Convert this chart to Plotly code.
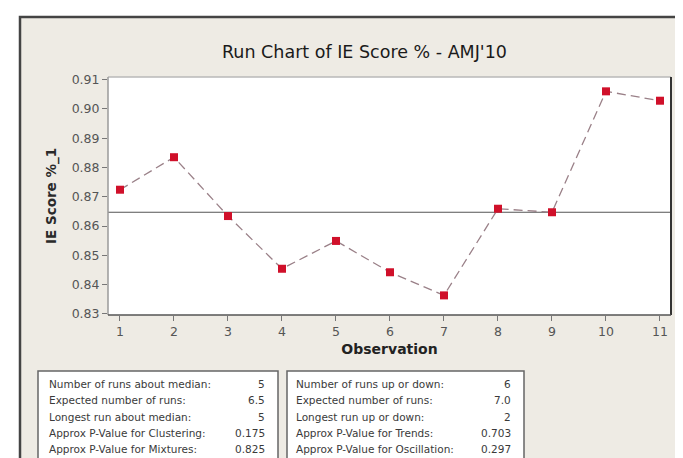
import plotly.graph_objects as go

# ---- data ----
observation = [1, 2, 3, 4, 5, 6, 7, 8, 9, 10, 11]
ie_score = [0.8724, 0.8835, 0.8634, 0.8454, 0.8549, 0.8442, 0.8363, 0.8659, 0.8647, 0.9060, 0.9028]
median_value = 0.8647
y_ticks = [0.83, 0.84, 0.85, 0.86, 0.87, 0.88, 0.89, 0.90, 0.91]
y_tick_text = ["0.83", "0.84", "0.85", "0.86", "0.87", "0.88", "0.89", "0.90", "0.91"]

left_labels = ["Number of runs about median:", "Expected number of runs:", "Longest run about median:",
               "Approx P-Value for Clustering:", "Approx P-Value for Mixtures:"]
left_values = ["5", "6.5", "5", "0.175", "0.825"]
right_labels = ["Number of runs up or down:", "Expected number of runs:", "Longest run up or down:",
                "Approx P-Value for Trends:", "Approx P-Value for Oscillation:"]
right_values = ["6", "7.0", "2", "0.703", "0.297"]

title_text = "Run Chart of IE Score % - AMJ'10"
x_title = "Observation"
y_title = "IE Score %_1"

# ---- geometry helpers (pixel -> paper) ----
W, H = 683, 458
L, R, T, B = 100, 663, 69, 307


def px(x):
    return (x - L) / (R - L)


def py(y):
    return (B - y) / (B - T)


FONT = "DejaVu Sans"
BG = "#EEEBE4"

fig = go.Figure()
fig.add_trace(go.Scatter(
    x=observation, y=ie_score, mode="lines+markers",
    line=dict(color="#9a8088", width=1.3, dash="9px,5px"),
    marker=dict(symbol="square", size=8, color="#D0102A", line=dict(width=0)),
    showlegend=False, hoverinfo="x+y",
))

shapes = []
# median line
shapes.append(dict(type="line", xref="paper", yref="y", x0=0, x1=1, y0=median_value, y1=median_value,
                   line=dict(color="#555555", width=1.2), layer="below"))
# plot borders
shapes.append(dict(type="line", xref="paper", yref="paper", x0=0, x1=1, y0=1, y1=1,
                   line=dict(color="#B8B8B8", width=1.5)))
shapes.append(dict(type="line", xref="paper", yref="paper", x0=0, x1=0, y0=0, y1=1,
                   line=dict(color="#9A9A9A", width=1.5)))
shapes.append(dict(type="line", xref="paper", yref="paper", x0=1, x1=1, y0=0, y1=1,
                   line=dict(color="#333333", width=2)))
shapes.append(dict(type="line", xref="paper", yref="paper", x0=0, x1=1, y0=0, y1=0,
                   line=dict(color="#555555", width=1.5)))
# white outer strips and dark frame
shapes.append(dict(type="rect", xref="paper", yref="paper", x0=px(-5), x1=px(12), y0=py(470), y1=py(-5),
                   fillcolor="white", line=dict(width=0)))
shapes.append(dict(type="rect", xref="paper", yref="paper", x0=px(-5), x1=px(700), y0=py(9), y1=py(-5),
                   fillcolor="white", line=dict(width=0)))
shapes.append(dict(type="rect", xref="paper", yref="paper", x0=px(12), x1=px(720), y0=py(480), y1=py(9),
                   line=dict(color="#444444", width=2.5)))
# stat boxes
for x0, x1 in [(30, 270), (279, 516)]:
    shapes.append(dict(type="rect", xref="paper", yref="paper", x0=px(x0), x1=px(x1), y0=py(452), y1=py(363),
                       fillcolor="white", line=dict(color="#666666", width=1.5)))

annotations = []
row_y = [376, 392, 409, 425, 441]
txt_font = dict(family=FONT, size=10.5, color="#3a3a3a")
for i in range(5):
    annotations.append(dict(xref="paper", yref="paper", x=px(39), y=py(row_y[i]), text=left_labels[i],
                            xanchor="left", yanchor="middle", showarrow=False, font=txt_font))
    annotations.append(dict(xref="paper", yref="paper", x=px(259), y=py(row_y[i]), text=left_values[i],
                            xanchor="right", yanchor="middle", showarrow=False, font=txt_font))
    annotations.append(dict(xref="paper", yref="paper", x=px(286), y=py(row_y[i]), text=right_labels[i],
                            xanchor="left", yanchor="middle", showarrow=False, font=txt_font))
    annotations.append(dict(xref="paper", yref="paper", x=px(505), y=py(row_y[i]), text=right_values[i],
                            xanchor="right", yanchor="middle", showarrow=False, font=txt_font))
# title
annotations.append(dict(xref="paper", yref="paper", x=px(356), y=py(44), text=title_text,
                        xanchor="center", yanchor="middle", showarrow=False,
                        font=dict(family=FONT, size=17.5, color="#1a1a1a")))
# y-axis title
annotations.append(dict(xref="paper", yref="paper", x=px(43), y=py(188), text="<b>" + y_title + "</b>",
                        xanchor="center", yanchor="middle", textangle=-90, showarrow=False,
                        font=dict(family=FONT, size=13.5, color="#2a2a2a")))

fig.update_layout(
    width=W, height=H, autosize=False,
    margin=dict(l=L, r=W - R, t=T, b=H - B, pad=0),
    paper_bgcolor=BG, plot_bgcolor="white",
    font=dict(family=FONT, color="#444444"),
    shapes=shapes, annotations=annotations,
    xaxis=dict(range=[0.778, 11.204], tickmode="array", tickvals=observation,
               ticktext=[str(v) for v in observation],
               showgrid=False, zeroline=False, showline=False,
               ticks="outside", ticklen=5, tickcolor="#777777",
               tickfont=dict(family=FONT, size=12.5, color="#555555"),
               title=dict(text="<b>" + x_title + "</b>", standoff=6,
                          font=dict(family=FONT, size=14, color="#222222"))),
    yaxis=dict(range=[0.8296, 0.9109], tickmode="array", tickvals=y_ticks, ticktext=y_tick_text,
               showgrid=False, zeroline=False, showline=False,
               ticks="outside", ticklen=5, tickcolor="#777777",
               tickfont=dict(family=FONT, size=12.5, color="#555555")),
)

fig.write_html("out.html")
